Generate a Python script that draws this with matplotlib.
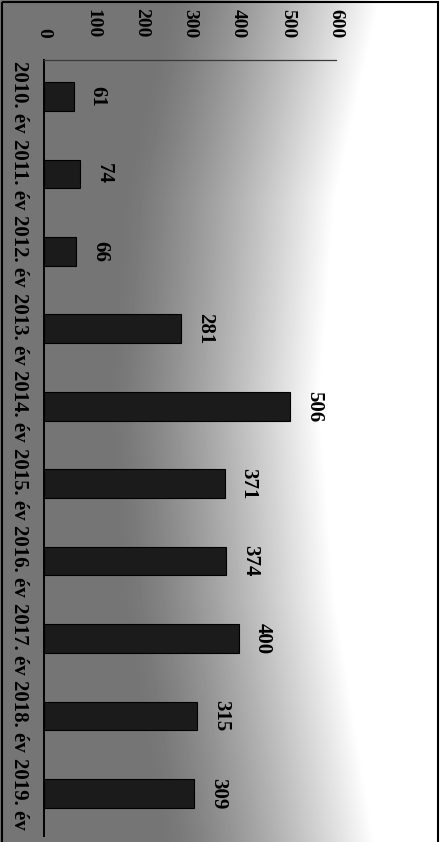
import numpy as np
import matplotlib
matplotlib.use("Agg")
import matplotlib.pyplot as plt
from matplotlib.patches import Rectangle

# ---- data ----
categories = ["2010. év", "2011. év", "2012. év", "2013. év", "2014. év",
              "2015. év", "2016. év", "2017. év", "2018. év", "2019. év"]
values = [61, 74, 66, 281, 506, 371, 374, 400, 315, 309]
tick_values = [0, 100, 200, 300, 400, 500, 600]
tick_labels = ["0", "100", "200", "300", "400", "500", "600"]

W, H = 446, 842
fig = plt.figure(figsize=(W / 100, H / 100), dpi=100)
fig.patch.set_facecolor("white")

# background: scanned grey wash fading to white on the right
bg = fig.add_axes([0, 0, 1, 1])
xs = np.arange(W)
ys = np.arange(H)
X, Y = np.meshgrid(xs, ys)
xe = np.interp(Y, [0, 200, 400, 600, 842], [380, 335, 320, 335, 375])
xs0 = xe - 210
g = 0.46 + 0.54 * np.clip((X - xs0) / (xe - xs0), 0, 1) ** 1.3
bg.imshow(g, extent=[0, W, H, 0], cmap="gray", vmin=0, vmax=1,
          aspect="auto", interpolation="bilinear")
bg.set_xlim(0, W)
bg.set_ylim(H, 0)
bg.axis("off")
bg.add_patch(Rectangle((1.5, 1.5), 436.5, 845, fill=False, ec="black", lw=1.5))

font = "Liberation Serif"

ax = fig.add_axes([44 / W, 1 - 836 / H, (336 - 44) / W, (836 - 60) / H])
ax.patch.set_alpha(0)
ypos = np.arange(len(categories))
bars = ax.barh(ypos, values, height=0.37, color="#1b1b1b", edgecolor="#000000", lw=0.8)
ax.set_xlim(0, 600)
ax.set_ylim(9.55, -0.47)

ax.xaxis.tick_top()
ax.set_xticks(tick_values)
ax.set_xticklabels(tick_labels, rotation=-90, fontfamily=font,
                   fontweight="bold", fontsize=14)
ax.tick_params(axis="x", length=0, pad=16)
ax.set_yticks(ypos)
ax.set_yticklabels(categories, rotation=-90, va="center", fontfamily=font,
                   fontweight="bold", fontsize=15)
ax.tick_params(axis="y", length=0, pad=11)

for s in ["right", "bottom"]:
    ax.spines[s].set_visible(False)
ax.spines["left"].set_color("black")
ax.spines["left"].set_linewidth(1.4)
ax.spines["top"].set_color("#3a3a3a")
ax.spines["top"].set_linewidth(0.9)

for y, v in zip(ypos, values):
    ax.annotate(str(v), xy=(v, y), xytext=(10, 0), textcoords="offset points",
                rotation=-90, ha="left", va="center", fontfamily=font,
                fontweight="bold", fontsize=15, color="black")

fig.savefig("out.png", dpi=100)
